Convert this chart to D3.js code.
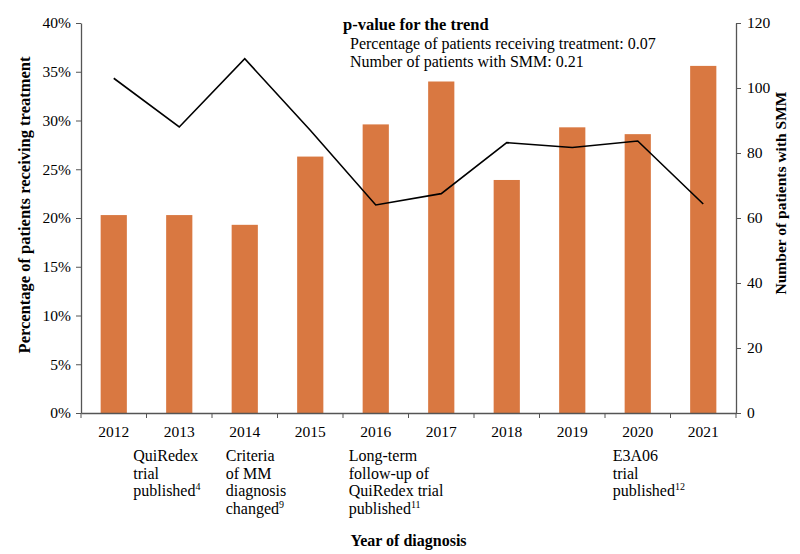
<!DOCTYPE html>
<html>
<head>
<meta charset="utf-8">
<script src="https://cdn.jsdelivr.net/npm/d3@7"></script>
<style>
  body { margin: 0; background: #fff; }
  text { font-family: "Liberation Serif", "Times New Roman", serif; fill: #000; }
</style>
</head>
<body>
<script>
var years = ["2012","2013","2014","2015","2016","2017","2018","2019","2020","2021"]
var pctTreated = [0.203, 0.203, 0.193, 0.263, 0.296, 0.340, 0.239, 0.293, 0.286, 0.356]
var nSMM = [103, 88, 109, 87, 64, 67.5, 83.2, 81.7, 83.7, 64.3]
var leftTicks = [0, 0.05, 0.10, 0.15, 0.20, 0.25, 0.30, 0.35, 0.40]
var rightTicks = [0, 20, 40, 60, 80, 100, 120]
var pLines = ["Percentage of patients receiving treatment: 0.07", "Number of patients with SMM: 0.21"]
var notes = [
  {year: "2013", lines: ["QuiRedex", "trial", "published"], sup: "4"},
  {year: "2014", lines: ["Criteria", "of MM", "diagnosis", "changed"], sup: "9"},
  {year: "2016", lines: ["Long-term", "follow-up of", "QuiRedex trial", "published"], sup: "11"},
  {year: "2020", lines: ["E3A06", "trial", "published"], sup: "12"}
]
// horizontal shift of each note from its year centre (layout only)
var noteShift = [-46, -19, -27, -25]

var W = 800, H = 554
var margin = {top: 23, right: 64, bottom: 141, left: 81}
var width = W - margin.left - margin.right
var height = H - margin.top - margin.bottom
var axisColor = "#555"

var svg = d3.select("body").append("svg")
  .attr("width", W).attr("height", H)
var g = svg.append("g")
  .attr("transform", "translate(" + margin.left + "," + margin.top + ")")

var x = d3.scaleBand().domain(years).range([0, width]).padding(0)
var yL = d3.scaleLinear().domain([0, 0.4]).range([height, 0])
var yR = d3.scaleLinear().domain([0, 120]).range([height, 0])

var barW = x.bandwidth() * 0.4

// bars
g.selectAll("rect.bar")
  .data(years)
  .enter().append("rect")
  .attr("class", "bar")
  .attr("x", function(d) { return x(d) + (x.bandwidth() - barW) / 2 })
  .attr("width", barW)
  .attr("y", function(d, i) { return yL(pctTreated[i]) })
  .attr("height", function(d, i) { return height - yL(pctTreated[i]) })
  .attr("fill", "#d97841")

// line
var line = d3.line()
  .x(function(d, i) { return x(years[i]) + x.bandwidth() / 2 })
  .y(function(d) { return yR(d) })
g.append("path")
  .datum(nSMM)
  .attr("fill", "none")
  .attr("stroke", "#000")
  .attr("stroke-width", 1.6)
  .attr("d", line)

// left axis
var left = g.append("g")
  .call(d3.axisLeft(yL).tickValues(leftTicks).tickSize(5).tickSizeOuter(0)
    .tickFormat(d3.format(".0%")))
// right axis
var right = g.append("g")
  .attr("transform", "translate(" + width + ",0)")
  .call(d3.axisRight(yR).tickValues(rightTicks).tickSize(5).tickSizeOuter(0))
// bottom axis: labels centred, ticks at band edges
var bottom = g.append("g")
  .attr("transform", "translate(0," + height + ")")
  .call(d3.axisBottom(x).tickSize(0).tickPadding(13))
bottom.selectAll(".edge")
  .data(years.map(function(d) { return x(d) }).concat([width]))
  .enter().append("line")
  .attr("class", "edge")
  .attr("x1", function(d) { return d }).attr("x2", function(d) { return d })
  .attr("y1", 0).attr("y2", 5)
  .attr("stroke", axisColor)

;[left, right, bottom].forEach(function(a) {
  a.selectAll("path.domain").attr("stroke", axisColor).attr("stroke-width", 1.3)
  a.selectAll(".tick line").attr("stroke", axisColor)
  a.selectAll(".tick text")
    .style("font-family", '"Liberation Serif", serif')
    .style("font-size", "15.5px")
    .attr("fill", "#000")
})
left.selectAll(".tick text").attr("x", -10)
right.selectAll(".tick text").attr("x", 11)

// axis titles
svg.append("text")
  .attr("transform", "translate(30,205) rotate(-90)")
  .attr("text-anchor", "middle")
  .style("font-size", "16.5px").style("font-weight", "bold")
  .text("Percentage of patients receiving treatment")
svg.append("text")
  .attr("transform", "translate(786,193) rotate(-90)")
  .attr("text-anchor", "middle")
  .style("font-size", "15.5px").style("font-weight", "bold")
  .text("Number of patients with SMM")
svg.append("text")
  .attr("x", margin.left + width / 2)
  .attr("y", 546)
  .attr("text-anchor", "middle")
  .style("font-size", "16px").style("font-weight", "bold")
  .text("Year of diagnosis")

// p-value box
svg.append("text")
  .attr("x", 343).attr("y", 30)
  .style("font-size", "16.5px").style("font-weight", "bold")
  .text("p-value for the trend")
svg.selectAll("text.pline")
  .data(pLines)
  .enter().append("text")
  .attr("class", "pline")
  .attr("x", 350)
  .attr("y", function(d, i) { return 49 + i * 18 })
  .style("font-size", "16px")
  .text(function(d) { return d })

// annotations under the axis
notes.forEach(function(n, k) {
  var nx = margin.left + x(n.year) + x.bandwidth() / 2 + noteShift[k]
  var t = svg.append("text")
    .attr("x", nx)
    .attr("y", 461)
    .style("font-size", "16px")
  n.lines.forEach(function(l, i) {
    t.append("tspan")
      .attr("x", nx)
      .attr("dy", i === 0 ? 0 : 17.5)
      .text(l)
    if (i === n.lines.length - 1) {
      t.append("tspan")
        .attr("dy", -6)
        .style("font-size", "10px")
        .text(n.sup)
    }
  })
})
</script>
</body>
</html>
